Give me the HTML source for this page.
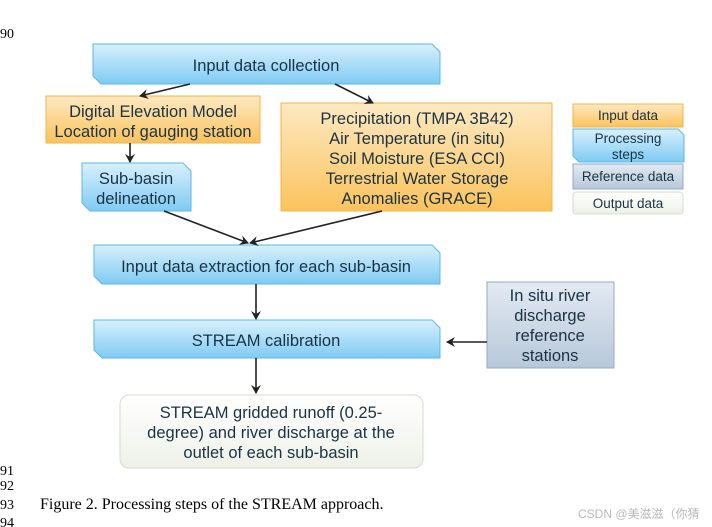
<!DOCTYPE html>
<html><head><meta charset="utf-8"><style>
html,body{margin:0;padding:0;background:#fff;width:712px;height:527px;overflow:hidden}
svg text{font-family:"Liberation Sans",sans-serif;fill:#1a3344}
</style></head><body>
<svg width="712" height="527" viewBox="0 0 712 527" xmlns="http://www.w3.org/2000/svg">
<defs>
<linearGradient id="bl" x1="0" y1="0" x2="0" y2="1"><stop offset="0" stop-color="#d8f0fd"/><stop offset="1" stop-color="#7fcbf3"/></linearGradient>
<linearGradient id="or" x1="0" y1="0" x2="0" y2="1"><stop offset="0" stop-color="#fde9c2"/><stop offset="1" stop-color="#fbc35c"/></linearGradient>
<linearGradient id="gr" x1="0" y1="0" x2="0" y2="1"><stop offset="0" stop-color="#e3eaf2"/><stop offset="1" stop-color="#b7c8da"/></linearGradient>
<linearGradient id="wh" x1="0" y1="0" x2="0" y2="1"><stop offset="0" stop-color="#ffffff"/><stop offset="1" stop-color="#eef1e8"/></linearGradient>
<marker id="ar" markerWidth="10" markerHeight="10" refX="8" refY="5" orient="auto" markerUnits="userSpaceOnUse"><path d="M0,0 L9,5 L0,10 L3,5 Z" fill="#222"/></marker>
</defs>
<g font-size="14">
<text x="0" y="38" style="font-family:'Liberation Serif',serif;fill:#000">90</text>
<text x="0" y="475" style="font-family:'Liberation Serif',serif;fill:#000">91</text>
<text x="0" y="490" style="font-family:'Liberation Serif',serif;fill:#000">92</text>
<text x="0" y="509" style="font-family:'Liberation Serif',serif;fill:#000">93</text>
<text x="0" y="527" style="font-family:'Liberation Serif',serif;fill:#000">94</text>
</g>
<text x="40" y="509" font-size="16" style="font-family:'Liberation Serif',serif;fill:#000">Figure 2. Processing steps of the STREAM approach.</text>
<text x="578" y="518" font-size="12" style="fill:#b8b8b8;font-family:'Liberation Sans','Noto Sans CJK SC',sans-serif">CSDN @美滋滋（你猜</text>

<path d="M93,44 H432 L440,52 V84 H101 L93,76 Z" fill="url(#bl)" stroke="#5ab8e8"/>
<text x="266" y="71" font-size="16.5" text-anchor="middle">Input data collection</text>
<path d="M82,163 H183 L191,171 V211 H90 L82,203 Z" fill="url(#bl)" stroke="#5ab8e8"/>
<text x="136" y="184" font-size="16.5" text-anchor="middle">Sub-basin</text>
<text x="136" y="204" font-size="16.5" text-anchor="middle">delineation</text>
<path d="M94,245 H432 L440,253 V284 H102 L94,276 Z" fill="url(#bl)" stroke="#5ab8e8"/>
<text x="266" y="272" font-size="16.5" text-anchor="middle">Input data extraction for each sub-basin</text>
<path d="M94,320 H432 L440,328 V358 H102 L94,350 Z" fill="url(#bl)" stroke="#5ab8e8"/>
<text x="266" y="346" font-size="16.5" text-anchor="middle">STREAM calibration</text>

<rect x="46" y="96" width="214" height="47" fill="url(#or)" stroke="#f3b448"/>
<text x="153" y="117" font-size="16.5" text-anchor="middle">Digital Elevation Model</text>
<text x="153" y="137" font-size="16.5" text-anchor="middle">Location of gauging station</text>
<rect x="281" y="103" width="271" height="108" fill="url(#or)" stroke="#f3b448"/>
<g font-size="16.5" text-anchor="middle">
<text x="417" y="124">Precipitation (TMPA 3B42)</text>
<text x="417" y="144">Air Temperature (in situ)</text>
<text x="417" y="164">Soil Moisture (ESA CCI)</text>
<text x="417" y="184">Terrestrial Water Storage</text>
<text x="417" y="204">Anomalies (GRACE)</text>
</g>

<rect x="487" y="282" width="127" height="86" fill="url(#gr)" stroke="#95abc4"/>
<g font-size="16.5" text-anchor="middle">
<text x="550" y="301">In situ river</text>
<text x="550" y="321">discharge</text>
<text x="550" y="341">reference</text>
<text x="550" y="361">stations</text>
</g>

<rect x="120" y="395" width="303" height="73" rx="9" fill="url(#wh)" stroke="#d5dccd"/>
<g font-size="16.5" text-anchor="middle">
<text x="271" y="418">STREAM gridded runoff (0.25-</text>
<text x="271" y="438">degree) and river discharge at the</text>
<text x="271" y="458">outlet of each sub-basin</text>
</g>

<rect x="573" y="104" width="110" height="23" fill="url(#or)" stroke="#f3b448"/>
<text x="628" y="120" font-size="13.5" text-anchor="middle">Input data</text>
<path d="M573,129 H678 L684,135 V162 H579 L573,156 Z" fill="url(#bl)" stroke="#5ab8e8"/>
<text x="628" y="143" font-size="13.5" text-anchor="middle">Processing</text>
<text x="628" y="159" font-size="13.5" text-anchor="middle">steps</text>
<rect x="573" y="164" width="110" height="25" fill="url(#gr)" stroke="#95abc4"/>
<text x="628" y="181" font-size="13.5" text-anchor="middle">Reference data</text>
<rect x="573" y="192" width="110" height="22" rx="3" fill="url(#wh)" stroke="#d5dccd"/>
<text x="628" y="208" font-size="13.5" text-anchor="middle">Output data</text>

<g stroke="#222" stroke-width="1.6" fill="none" marker-end="url(#ar)">
<line x1="190" y1="84" x2="140" y2="96"/>
<line x1="335" y1="84" x2="373" y2="103"/>
<line x1="130" y1="143" x2="130" y2="162"/>
<line x1="164" y1="211" x2="248" y2="243"/>
<line x1="382" y1="211" x2="250" y2="243"/>
<line x1="256" y1="284" x2="256" y2="319"/>
<line x1="256" y1="358" x2="256" y2="393"/>
<line x1="487" y1="342" x2="447" y2="342"/>
</g>
</svg>
</body></html>
